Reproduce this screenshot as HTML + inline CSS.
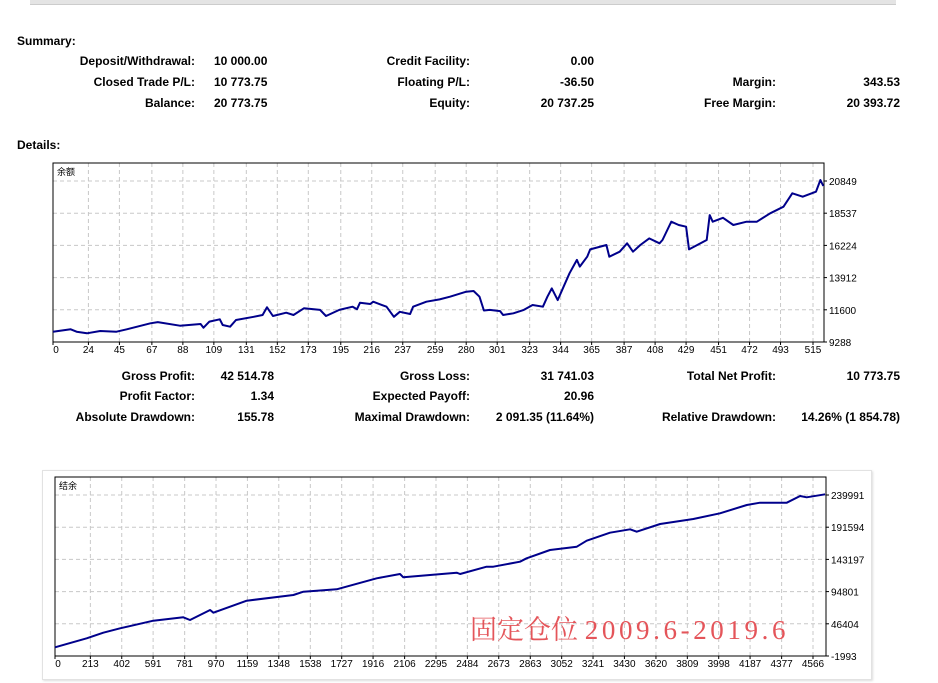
<!DOCTYPE html>
<html><head><meta charset="utf-8"><style>
body{margin:0;width:938px;height:683px;background:#fff;position:relative;overflow:hidden;font-family:"Liberation Sans","Noto Sans CJK SC",sans-serif;font-size:12px;font-weight:bold;color:#000}
.t{position:absolute;white-space:nowrap;line-height:14px}
.r{text-align:right}
svg{font-weight:normal}
</style></head><body>
<div style="position:absolute;left:30px;top:0;width:866px;height:4px;background:#e4e4e4;border-bottom:1px solid #ccc"></div>
<div class="t" style="left:17px;top:34px">Summary:</div>
<div class="t r" style="right:743px;top:54px">Deposit/Withdrawal:</div>
<div class="t" style="left:214px;top:54px">10 000.00</div>
<div class="t r" style="right:743px;top:75px">Closed Trade P/L:</div>
<div class="t" style="left:214px;top:75px">10 773.75</div>
<div class="t r" style="right:743px;top:96px">Balance:</div>
<div class="t" style="left:214px;top:96px">20 773.75</div>
<div class="t r" style="right:468px;top:54px">Credit Facility:</div>
<div class="t r" style="right:344px;top:54px">0.00</div>
<div class="t r" style="right:468px;top:75px">Floating P/L:</div>
<div class="t r" style="right:344px;top:75px">-36.50</div>
<div class="t r" style="right:468px;top:96px">Equity:</div>
<div class="t r" style="right:344px;top:96px">20 737.25</div>
<div class="t r" style="right:162px;top:75px">Margin:</div>
<div class="t r" style="right:38px;top:75px">343.53</div>
<div class="t r" style="right:162px;top:96px">Free Margin:</div>
<div class="t r" style="right:38px;top:96px">20 393.72</div>
<div class="t" style="left:17px;top:138px">Details:</div>

<div class="t r" style="right:743px;top:369px">Gross Profit:</div>
<div class="t r" style="right:664px;top:369px">42 514.78</div>
<div class="t r" style="right:743px;top:389px">Profit Factor:</div>
<div class="t r" style="right:664px;top:389px">1.34</div>
<div class="t r" style="right:743px;top:410px">Absolute Drawdown:</div>
<div class="t r" style="right:664px;top:410px">155.78</div>
<div class="t r" style="right:468px;top:369px">Gross Loss:</div>
<div class="t r" style="right:344px;top:369px">31 741.03</div>
<div class="t r" style="right:468px;top:389px">Expected Payoff:</div>
<div class="t r" style="right:344px;top:389px">20.96</div>
<div class="t r" style="right:468px;top:410px">Maximal Drawdown:</div>
<div class="t r" style="right:344px;top:410px">2 091.35 (11.64%)</div>
<div class="t r" style="right:162px;top:369px">Total Net Profit:</div>
<div class="t r" style="right:38px;top:369px">10 773.75</div>
<div class="t r" style="right:162px;top:410px">Relative Drawdown:</div>
<div class="t r" style="right:38px;top:410px">14.26% (1 854.78)</div>

<div style="position:absolute;left:42px;top:470px;width:828px;height:208px;border:1px solid #e2e2e2;box-shadow:1px 1px 2px #ddd"></div>
<svg id="svg" width="938" height="683" style="position:absolute;left:0;top:0" xmlns="http://www.w3.org/2000/svg"></svg>
<div style="position:absolute;left:470px;top:614px;font-family:'Liberation Serif','Noto Serif CJK SC',serif;font-weight:normal;font-size:27px;color:#e4555a;white-space:nowrap;line-height:32px">固定仓位 <span style="letter-spacing:3.6px">2009.6-2019.6</span></div>

<script>
const balIdx=[0,12,16,23,32,43,50,66,71,86,100,102,106,113,115,120,124,136,142,145,149,158,163,170,181,185,194,203,206,208,215,217,226,231,235,242,244,253,262,269,280,285,289,292,296,303,305,312,319,325,332,335,338,342,346,350,355,357,362,364,375,377,384,389,393,398,404,411,413,419,424,429,431,443,445,447,454,461,470,477,486,495,501,508,517,520,522];
const balVal=[10030,10200,10030,9910,10080,10030,10200,10630,10720,10460,10580,10315,10750,10920,10510,10390,10870,11100,11230,11780,11155,11390,11230,11710,11590,11155,11590,11820,11640,12110,12020,12180,11820,11100,11460,11300,11820,12180,12350,12540,12900,12950,12540,11550,11590,11510,11230,11350,11590,11945,11820,12540,13140,12300,13260,14220,15180,14700,15410,15940,16250,15410,15770,16375,15770,16250,16730,16375,16610,17925,17690,17570,15940,16610,18400,17925,18210,17690,17925,17925,18530,19000,19965,19720,20080,20920,20490];
const bal1XTicks=[0,24,45,67,88,109,131,152,173,195,216,237,259,280,301,323,344,365,387,408,429,451,472,493,515];
const bal1YTicks=[9288,11600,13912,16224,18537,20849];
const eqIdx=[0,191,291,392,592,773,813,934,954,1155,1436,1496,1697,1938,2078,2098,2420,2440,2600,2640,2801,2841,2982,3143,3203,3343,3464,3504,3645,3845,4006,4167,4247,4408,4488,4528,4639];
const eqVal=[11090,24610,33000,39600,51060,56180,52100,67150,63090,81100,89700,94650,98260,114800,121250,116300,123200,121250,132200,132200,139700,144800,157300,162300,171300,183300,188400,184800,196400,203900,212500,225000,228400,228400,238500,236500,241000];
const eqXTicks=[0,213,402,591,781,970,1159,1348,1538,1727,1916,2106,2295,2484,2673,2863,3052,3241,3430,3620,3809,3998,4187,4377,4566];
const eqYTicks=[-1993,46404,94801,143197,191594,239991];

const svg=document.getElementById('svg');
const NS='http://www.w3.org/2000/svg';
function mk(tag,attrs,parent){const e=document.createElementNS(NS,tag);for(const k in attrs)e.setAttribute(k,attrs[k]);(parent||svg).appendChild(e);return e;}
function drawChart(o){
  const xs=v=>o.L+(v-o.x0)*(o.xEnd-o.L)/(o.x1-o.x0);
  const ys=v=>o.B-(v-o.y0)*(o.B-o.yTop)/(o.y1-o.y0);
  const g=mk('g',{});
  
  
  o.xt.forEach(t=>{const x=xs(t);
    if(t>o.x0){const l=mk('line',{x1:x,x2:x,y1:o.T,y2:o.B,stroke:'#c8c8c8','stroke-dasharray':'4,3'},g);
    }
    mk('line',{x1:x,x2:x,y1:o.B,y2:o.B+3,stroke:'#000'},g);
    const tx=mk('text',{x:x+(t===0?3:0),y:o.B+11,'font-size':10,'font-weight':'normal','text-anchor':'middle','font-family':'Liberation Sans, sans-serif'},g);
    tx.textContent=t;
    
    
  });
  o.yt.forEach(t=>{const y=ys(t);
    if(t>o.y0){const l=mk('line',{x1:o.L,x2:o.R,y1:y,y2:y,stroke:'#c8c8c8','stroke-dasharray':'4,3'},g);
    }
    mk('line',{x1:o.R,x2:o.R+3,y1:y,y2:y,stroke:'#000'},g);
    const tx=mk('text',{x:o.R+5,y:y+4,'font-size':10,'font-weight':'normal','font-family':'Liberation Sans, sans-serif'},g);
    tx.textContent=t;
    
    
  });
  const fr=mk('rect',{x:o.L,y:o.T,width:o.R-o.L,height:o.B-o.T,fill:'none',stroke:'#000','stroke-width':1},g);
  
  const ti=mk('text',{x:o.L+4,y:o.T+12,'font-size':9,'font-weight':'normal','font-family':'Noto Sans CJK SC, sans-serif'},g);
  ti.textContent=o.title;
  
  
  let d='';o.xi.forEach((v,i)=>{d+=(i?'L':'M')+xs(v).toFixed(1)+','+ys(o.yv[i]).toFixed(1);});
  const p=mk('path',{d:d,fill:'none',stroke:'#00008b','stroke-width':2,'stroke-linejoin':'round'},g);
  
  
}
drawChart({name:'balance-chart',lineName:'balance-line',title:'余额',L:53,R:824,T:163,B:342,yTop:181,xEnd:813,x0:0,x1:515,y0:9288,y1:20849,xt:bal1XTicks,yt:bal1YTicks,xi:balIdx,yv:balVal});
drawChart({name:'equity-chart',lineName:'equity-line',title:'结余',L:55,R:826,T:477,B:656,yTop:495,xEnd:813,x0:0,x1:4566,y0:-1993,y1:239991,xt:eqXTicks,yt:eqYTicks,xi:eqIdx,yv:eqVal});
</script>
</body></html>
